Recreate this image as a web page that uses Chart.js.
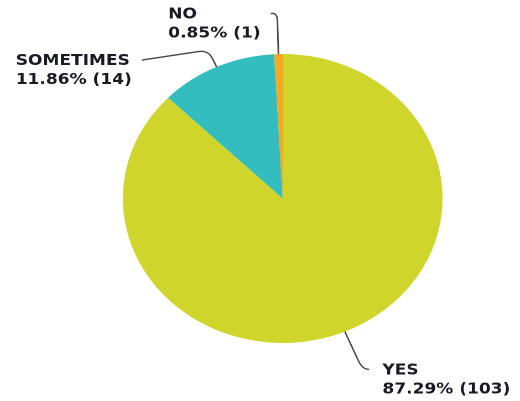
<!DOCTYPE html>
<html><head><meta charset="utf-8">
<script src="https://cdn.jsdelivr.net/npm/chart.js@4/dist/chart.umd.min.js"></script>
<style>
html,body{margin:0;padding:0;background:#fff;overflow:hidden;width:520px;height:401px}
#wrap{position:absolute;left:0;top:0;width:470px;height:401px;transform:scaleX(1.1064);transform-origin:0 0}
</style></head><body>
<div id="wrap"><canvas id="c" width="470" height="401"></canvas></div>
<script>
const categories = ['YES', 'SOMETIMES', 'NO'];
const counts = [103, 14, 1];
const percentLabels = ['87.29%', '11.86%', '0.85%'];
const colors = ['#cfd52b', '#33bdbf', '#f6a823'];

// leader-line styling per slice: radial length, horizontal run, vertical drift
const leaderLen = [41, 18.5, 42];
const leaderRun = [6, 60, 6];
const leaderDrop = [0, 10, 1.5];

const labelPlugin = {
  id: 'leaderLabels',
  afterDatasetsDraw(chart) {
    const ctx = chart.ctx;
    const meta = chart.getDatasetMeta(0);
    ctx.save();
    ctx.font = 'bold 15.4px "DejaVu Sans"';
    meta.data.forEach((arc, i) => {
      const mid = (arc.startAngle + arc.endAngle) / 2;
      const ux = Math.cos(mid), uy = Math.sin(mid);
      const r = arc.outerRadius;
      const ex = arc.x + ux * r, ey = arc.y + uy * r;
      const kx = ex + ux * leaderLen[i], ky = ey + uy * leaderLen[i];
      const side = ux >= 0 ? 1 : -1;
      const px = kx + side * leaderRun[i], py = ky + leaderDrop[i];
      const c = 9;
      const ax = kx - ux * c, ay = ky - uy * c;
      const dx = px - kx, dy = py - ky, dl = Math.hypot(dx, dy) || 1;
      const cc = Math.min(c, dl);
      const bx = kx + dx / dl * cc, by = ky + dy / dl * cc;
      ctx.beginPath();
      ctx.moveTo(ex, ey);
      ctx.lineTo(ax, ay);
      ctx.quadraticCurveTo(kx, ky, bx, by);
      ctx.lineTo(px, py);
      ctx.strokeStyle = '#474747';
      ctx.lineWidth = 1.4;
      ctx.stroke();
      const line1 = categories[i];
      const line2 = percentLabels[i] + ' (' + counts[i] + ')';
      const w = Math.max(ctx.measureText(line1).width, ctx.measureText(line2).width);
      const tx = side > 0 ? px + 12 : px - 9 - w;
      ctx.fillStyle = '#1a1a24';
      ctx.textAlign = 'left';
      ctx.textBaseline = 'middle';
      ctx.fillText(line1, tx, py + 1);
      ctx.fillText(line2, tx, py + 20);
    });
    ctx.restore();
  }
};

new Chart(document.getElementById('c'), {
  type: 'pie',
  data: {
    labels: categories,
    datasets: [{
      data: counts,
      backgroundColor: colors,
      borderWidth: 0,
      hoverOffset: 0,
      offset: 0
    }]
  },
  options: {
    responsive: false,
    devicePixelRatio: 2,
    animation: false,
    events: [],
    layout: { padding: { left: 111, right: 70, top: 54, bottom: 58 } },
    plugins: { legend: { display: false }, tooltip: { enabled: false } }
  },
  plugins: [labelPlugin]
});
</script>
</body></html>
